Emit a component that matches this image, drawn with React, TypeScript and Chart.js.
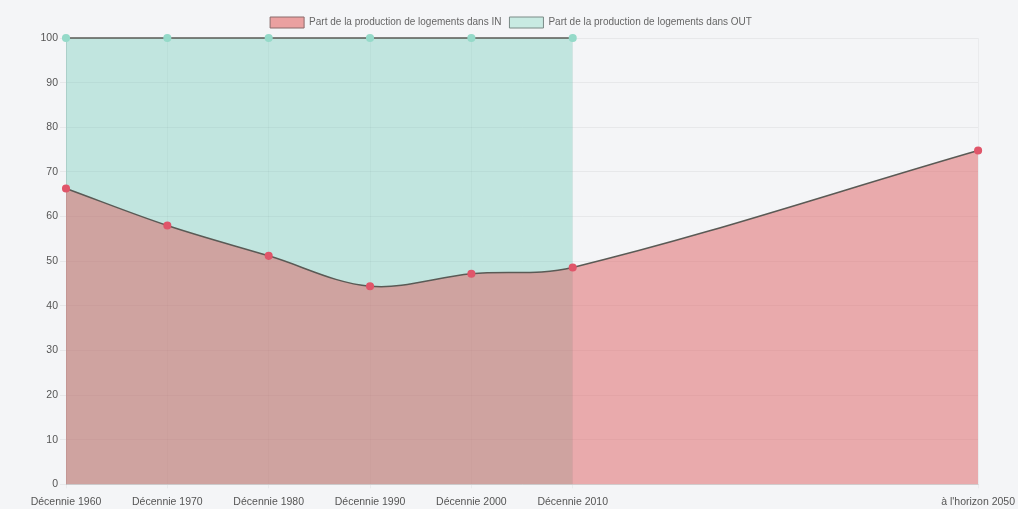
import React, { useEffect, useRef } from "react";
import { Chart, registerables } from "chart.js";

Chart.register(...registerables);

const labels = ["Décennie 1960", "Décennie 1970", "Décennie 1980", "Décennie 1990", "Décennie 2000", "Décennie 2010", "", "", "", "à l'horizon 2050"];
const inValues = [66.3, 58.0, 51.2, 44.4, 47.2, 48.6, null, null, null, 74.8];
const outValues = [100, 100, 100, 100, 100, 100, null, null, null, null];
const inLabel = "Part de la production de logements dans IN";
const outLabel = "Part de la production de logements dans OUT";

export default function App() {
  const ref = useRef<HTMLCanvasElement>(null);
  useEffect(() => {
    document.body.style.margin = "0";
    document.body.style.background = "#f4f5f7";
    const font = { family: "'Liberation Sans', Arial, sans-serif", size: 10.5 };
    const chart = new Chart(ref.current!, {
      type: "line",
      data: {
        labels,
        datasets: [
          {
            label: inLabel,
            data: inValues,
            backgroundColor: "rgba(222,96,98,0.5)",
            borderColor: "#5a5a55",
            borderWidth: 1.5,
            pointBackgroundColor: "#e0566a",
            pointBorderColor: "#e0566a",
            pointRadius: 3.3,
            fill: "origin",
            tension: 0.35,
            spanGaps: true,
            clip: false,
          },
          {
            label: outLabel,
            data: outValues,
            backgroundColor: "rgba(75,192,168,0.3)",
            borderColor: "#5a5a55",
            borderWidth: 1.5,
            pointBackgroundColor: "#95dac9",
            pointBorderColor: "#95dac9",
            pointRadius: 3.3,
            fill: "origin",
            tension: 0.35,
            spanGaps: false,
            clip: false,
          },
        ],
      },
      options: {
        animation: false,
        responsive: false,
        maintainAspectRatio: false,
        layout: { padding: { left: 0, right: 0, top: 9, bottom: 0 } },
        plugins: {
          legend: {
            position: "top",
            labels: {
              font: { ...font, size: 10 },
              color: "#666",
              boxWidth: 34,
              boxHeight: 11,
              padding: 8,
              generateLabels: (c: any) => [
                { text: inLabel, fillStyle: "rgba(234,160,160,1)", strokeStyle: "#8a6a6a", lineWidth: 1, datasetIndex: 0, fontColor: "#666" },
                { text: outLabel, fillStyle: "rgba(200,234,226,1)", strokeStyle: "#7a8a86", lineWidth: 1, datasetIndex: 1, fontColor: "#666" },
              ],
            },
          },
          tooltip: { enabled: false },
        },
        scales: {
          x: {
            grid: {
              color: (ctx: any) => (labels[ctx.index] === "" ? "rgba(0,0,0,0)" : "rgba(0,0,0,0.04)"),
              tickLength: 4,
            },
            ticks: { font, color: "#555", maxRotation: 0, autoSkip: false, padding: 7 },
            border: { color: "rgba(0,0,0,0.1)" },
          },
          y: {
            min: 0,
            max: 100,
            afterFit: (s: any) => {
              s.width = 66;
            },
            grid: { color: "rgba(0,0,0,0.05)", tickLength: 6 },
            ticks: { font, color: "#555", stepSize: 10, padding: 2 },
            border: { color: "rgba(0,0,0,0.1)" },
          },
        },
      },
    });
    return () => chart.destroy();
  }, []);
  return (
    <div style={{ position: "fixed", left: 0, top: 0, width: 1018, height: 509, overflow: "hidden", background: "#f4f5f7" }}>
      <canvas ref={ref} width={1022} height={515} style={{ width: 1022, height: 515 }} />
    </div>
  );
}
